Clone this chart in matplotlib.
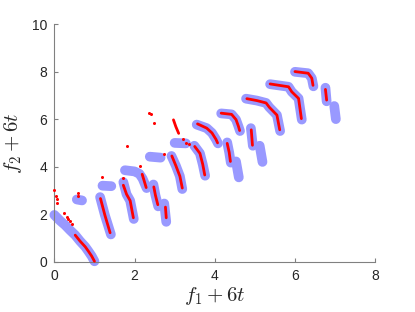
import matplotlib
matplotlib.use("Agg")
import matplotlib.pyplot as plt

BLUE = "#9999ff"
RED = "#ff0000"

# true front pieces (x list, y list), one group per time step
front_t00 = ([0.0, 0.14, 0.27, 0.39, 0.52, 0.64, 0.77, 0.85, 0.93, 1.0],
             [1.97, 1.73, 1.54, 1.33, 1.12, 0.87, 0.63, 0.44, 0.24, 0.02])
front_t01a = ([0.56, 0.69], [2.62, 2.58])
front_t01b = ([1.14, 1.26, 1.41], [2.72, 1.96, 1.15])
front_t02a = ([1.2, 1.42], [3.2, 3.18])
front_t02b = ([1.72, 1.8, 1.89, 1.98], [3.35, 2.84, 2.57, 1.8])
front_t03a = ([1.76, 2.0, 2.12, 2.2, 2.3], [3.85, 3.8, 3.7, 3.5, 3.1])
front_t03b = ([2.47, 2.52, 2.59], [3.25, 2.8, 2.33])
front_t03c = ([2.74, 2.79], [2.45, 1.68])
front_t04a = ([2.38, 2.65], [4.42, 4.38])
front_t04b = ([2.92, 3.03, 3.13, 3.19], [4.45, 4.04, 3.6, 3.06])
front_t05a = ([3.0, 3.28], [5.0, 4.98])
front_t05b = ([3.49, 3.63, 3.7, 3.76], [4.88, 4.56, 4.1, 3.62])
front_t06a = ([3.55, 3.8, 3.93, 4.03, 4.08], [5.77, 5.62, 5.42, 5.15, 4.98])
front_t06b = ([4.31, 4.36, 4.4], [5.02, 4.6, 4.17])
front_t06c = ([4.53, 4.6], [4.22, 3.55])
front_t07a = ([4.16, 4.42, 4.53, 4.59, 4.63], [6.24, 6.2, 5.98, 5.7, 5.5])
front_t07b = ([4.9, 4.95], [5.62, 4.88])
front_t07c = ([5.12, 5.19], [4.88, 4.2])
front_t08a = ([4.78, 5.05, 5.28, 5.36, 5.55, 5.63], [6.86, 6.78, 6.68, 6.5, 6.17, 5.5])
front_t09a = ([5.38, 5.84, 5.92, 6.09, 6.17], [7.47, 7.36, 7.15, 6.87, 5.98])
front_t10a = ([6.0, 6.33, 6.42, 6.46], [7.99, 7.93, 7.72, 7.38])
front_t10b = ([6.76, 6.79], [7.32, 6.75])
front_t10c = ([6.98, 7.02], [6.55, 6.0])

# obtained solutions, drawn as dense runs
found_t00 = ([0.52, 0.64, 0.77, 0.85, 0.93, 1.0], [1.12, 0.87, 0.63, 0.44, 0.24, 0.02])
found_t01 = ([1.15, 1.26, 1.39], [2.66, 1.96, 1.22])
found_t02 = ([1.72, 1.8, 1.89, 1.97], [3.22, 2.84, 2.57, 1.85])
found_t03a = ([2.19, 2.24, 2.29], [3.68, 3.4, 3.12])
found_t03b = ([2.48, 2.52, 2.58], [3.15, 2.8, 2.4])
found_t03c = ([2.77, 2.79], [2.3, 1.85])
found_t04 = ([2.93, 3.03, 3.13, 3.19], [4.45, 4.04, 3.6, 3.1])
found_t05 = ([3.5, 3.63, 3.7, 3.75], [4.85, 4.56, 4.1, 3.65])
found_t05x = ([2.97, 3.03, 3.1], [5.97, 5.68, 5.4])
found_t06a = ([3.57, 3.8, 3.93, 4.03, 4.07], [5.8, 5.62, 5.42, 5.15, 5.0])
found_t06b = ([4.31, 4.36, 4.39], [4.98, 4.6, 4.22])
found_t07a = ([4.16, 4.42, 4.53, 4.59, 4.62], [6.25, 6.2, 5.98, 5.7, 5.52])
found_t07b = ([4.91, 4.94], [5.55, 4.9])
found_t08 = ([4.8, 5.05, 5.28, 5.36, 5.55, 5.62], [6.86, 6.78, 6.68, 6.5, 6.17, 5.55])
found_t09 = ([5.38, 5.84, 5.92, 6.09, 6.16], [7.48, 7.36, 7.15, 6.87, 6.02])
found_t10a = ([6.0, 6.33, 6.42, 6.45], [8.0, 7.93, 7.72, 7.42])
found_t10b = ([6.76, 6.79], [7.25, 6.8])

# scattered solutions
dots_x = [0.0, 0.04, 0.07, 0.075, 0.58, 0.59, 0.25, 0.31, 0.35, 0.39, 0.43,
          1.18, 1.72, 2.14, 2.74, 1.8, 2.37, 2.4, 2.48, 3.2, 3.28, 3.36]
dots_y = [3.03, 2.78, 2.65, 2.48, 2.88, 2.76, 2.05, 1.89, 1.79, 1.7, 1.6,
          3.58, 3.51, 4.02, 4.52, 4.85, 6.27, 6.2, 5.84, 5.15, 5.0, 4.95]

FRONT = [front_t00, front_t01a, front_t01b, front_t02a, front_t02b,
         front_t03a, front_t03b, front_t03c, front_t04a, front_t04b,
         front_t05a, front_t05b, front_t06a, front_t06b, front_t06c,
         front_t07a, front_t07b, front_t07c, front_t08a, front_t09a,
         front_t10a, front_t10b, front_t10c]
FOUND = [found_t00, found_t01, found_t02, found_t03a, found_t03b, found_t03c,
         found_t04, found_t05, found_t05x, found_t06a, found_t06b,
         found_t07a, found_t07b, found_t08, found_t09, found_t10a, found_t10b]

plt.rcParams["font.family"] = ["Liberation Sans", "DejaVu Sans"]
plt.rcParams["mathtext.fontset"] = "cm"

fig = plt.figure(figsize=(4.15, 3.12), dpi=100)
ax = fig.add_axes([0.131, 0.161, 0.773, 0.762])

for xs, ys in FRONT:
    ax.plot(xs, ys, "-", color=BLUE, linewidth=7.0, solid_capstyle="round",
            solid_joinstyle="round", clip_on=False, zorder=2)
for xs, ys in FOUND:
    ax.plot(xs, ys, "-", color=RED, linewidth=2.0, solid_capstyle="round",
            clip_on=False, zorder=3)
ax.plot(dots_x, dots_y, "o", color=RED, markersize=2.2, markeredgewidth=0,
        clip_on=False, zorder=3)

ax.set_xlim(0, 8)
ax.set_ylim(0, 10)
ax.set_xticks([0, 2, 4, 6, 8])
ax.set_yticks([0, 2, 4, 6, 8, 10])
for s in ("top", "right"):
    ax.spines[s].set_visible(False)
for s in ("left", "bottom"):
    ax.spines[s].set_color("#808080")
    ax.spines[s].set_linewidth(0.8)
ax.tick_params(direction="in", length=3, width=0.8, color="#808080",
               labelsize=10, labelcolor="#262626", pad=5)
ax.set_xlabel("$f_1 + 6t$", fontsize=15, color="#262626", labelpad=2)
ax.set_ylabel("$f_2 + 6t$", fontsize=15, color="#262626", labelpad=6)

fig.savefig("out.png", dpi=100)
